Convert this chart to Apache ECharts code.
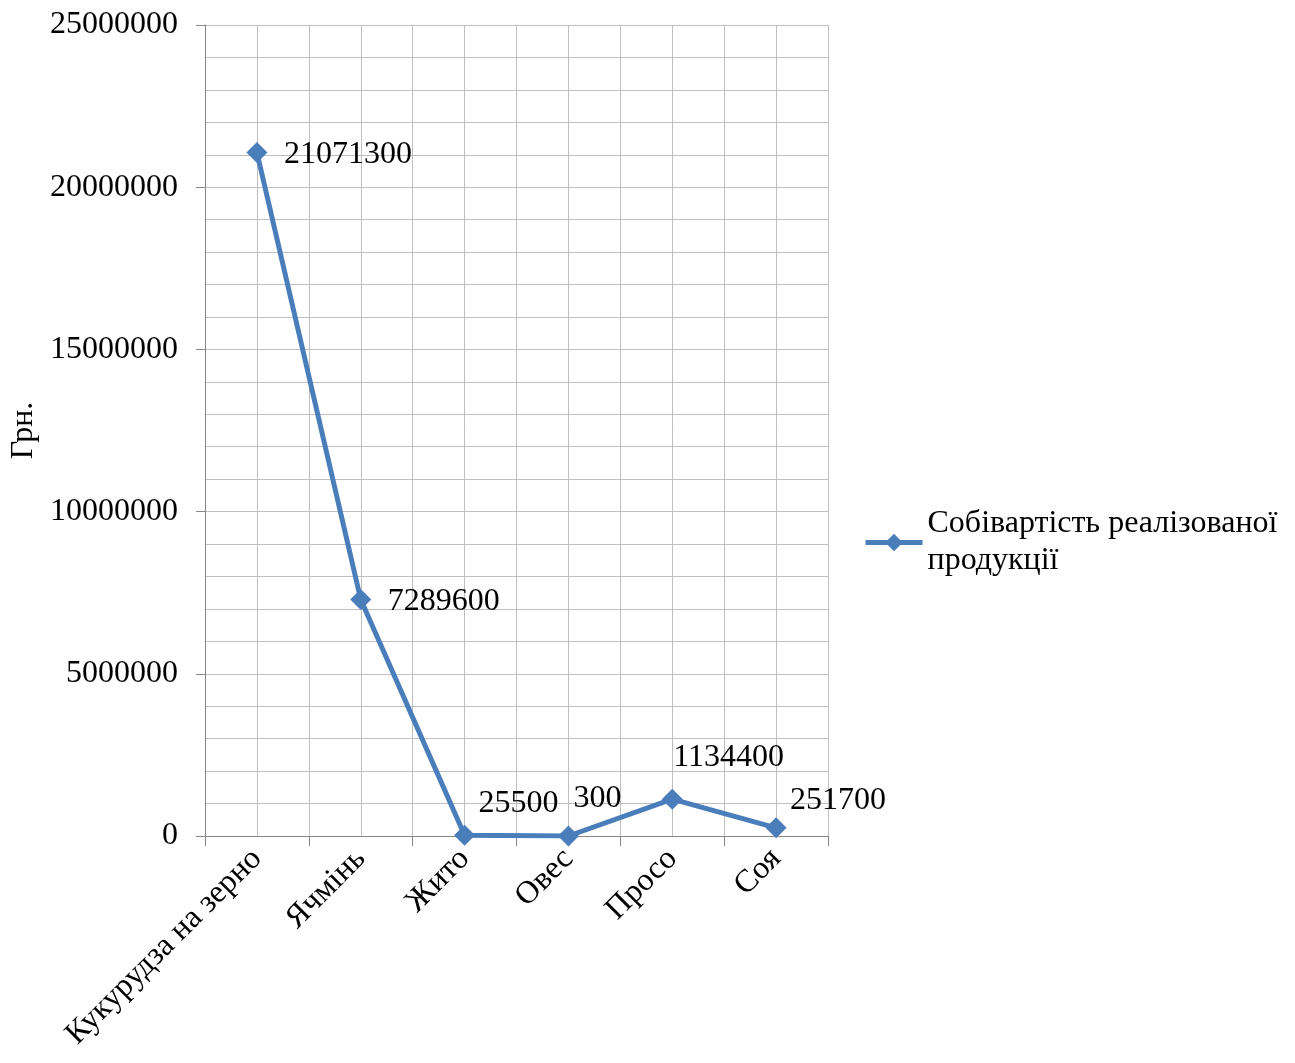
<!DOCTYPE html>
<html>
<head>
<meta charset="utf-8">
<script src="https://cdn.jsdelivr.net/npm/echarts@6/dist/echarts.min.js"></script>
<style>
  html, body { margin: 0; padding: 0; background: #ffffff; }
  #chart { width: 1295px; height: 1063px; }
</style>
</head>
<body>
<div id="chart"></div>
<script>
// Crops and the cost of their sold output, UAH
const categories = ['Кукурудза на зерно', 'Ячмінь', 'Жито', 'Овес', 'Просо', 'Соя'];
const costValues = [21071300, 7289600, 25500, 300, 1134400, 251700];
const seriesName = 'Собівартість реалізованої\nпродукції';
const axisName = 'Грн.';

// Where each value label sits relative to its marker (left edge, vertical middle)
const labelShift = [[27, 2], [27, 2], [14, -32], [5, -37], [1, -42], [14, -27]];

const FONT = "'Liberation Serif', 'Times New Roman', serif";
const FS = 32;
const LINE = '#4A7EBB';
const GRID = '#BFBFBF';
const AXIS = '#868686';
const SYM = 21;

const chart = echarts.init(document.getElementById('chart'));

const points = costValues.map((v, i) => ({
  value: v,
  label: {
    position: [SYM / 2 + labelShift[i][0], SYM / 2 + labelShift[i][1]],
    align: 'left',
    verticalAlign: 'middle'
  }
}));

chart.setOption({
  animation: false,
  backgroundColor: '#ffffff',
  textStyle: { fontFamily: FONT },
  grid: { left: 205, right: 467, top: 25, bottom: 227, containLabel: false, outerBoundsMode: 'none' },
  legend: {
    left: 858,
    top: 482,
    orient: 'vertical',
    itemWidth: 57,
    itemHeight: 22,
    itemGap: 0,
    data: [seriesName],
    lineStyle: { width: 5 },
    textStyle: {
      fontFamily: FONT,
      fontSize: FS,
      color: '#000000',
      lineHeight: 37,
      padding: [37, 0, 0, 0]
    }
  },
  xAxis: [
    {
      type: 'category',
      data: categories,
      boundaryGap: true,
      axisLine: { show: true, lineStyle: { color: AXIS, width: 1 } },
      axisTick: { show: true, length: 10, alignWithLabel: false, lineStyle: { color: AXIS } },
      splitLine: { show: false },
      axisLabel: {
        rotate: 45,
        margin: 18,
        interval: 0,
        color: '#000000',
        fontFamily: FONT,
        fontSize: FS
      }
    },
    {
      // helper axis: vertical grid lines at category edges and centres
      type: 'value',
      min: 0,
      max: 12,
      interval: 1,
      position: 'bottom',
      axisLine: { show: false },
      axisTick: { show: false },
      axisLabel: { show: false },
      splitLine: { show: true, lineStyle: { color: GRID, width: 1 } }
    }
  ],
  yAxis: {
    type: 'value',
    min: 0,
    max: 25000000,
    interval: 5000000,
    name: axisName,
    nameLocation: 'middle',
    nameGap: 165,
    nameRotate: 90,
    nameTextStyle: { fontFamily: FONT, fontSize: FS, color: '#000000' },
    axisLine: { show: true, lineStyle: { color: AXIS, width: 1 } },
    axisTick: { show: true, length: 9, lineStyle: { color: AXIS } },
    axisLabel: {
      margin: 27,
      color: '#000000',
      fontFamily: FONT,
      fontSize: FS,
      formatter: v => String(v)
    },
    splitLine: { show: true, lineStyle: { color: GRID, width: 1 } },
    minorTick: { show: false, splitNumber: 5 },
    minorSplitLine: { show: true, lineStyle: { color: GRID, width: 1 } }
  },
  series: [{
    name: seriesName,
    type: 'line',
    xAxisIndex: 0,
    yAxisIndex: 0,
    data: points,
    symbol: 'diamond',
    symbolSize: SYM,
    lineStyle: { color: LINE, width: 5 },
    itemStyle: { color: LINE },
    label: {
      show: true,
      color: '#000000',
      fontFamily: FONT,
      fontSize: FS
    },
    z: 5
  }]
});
</script>
</body>
</html>
